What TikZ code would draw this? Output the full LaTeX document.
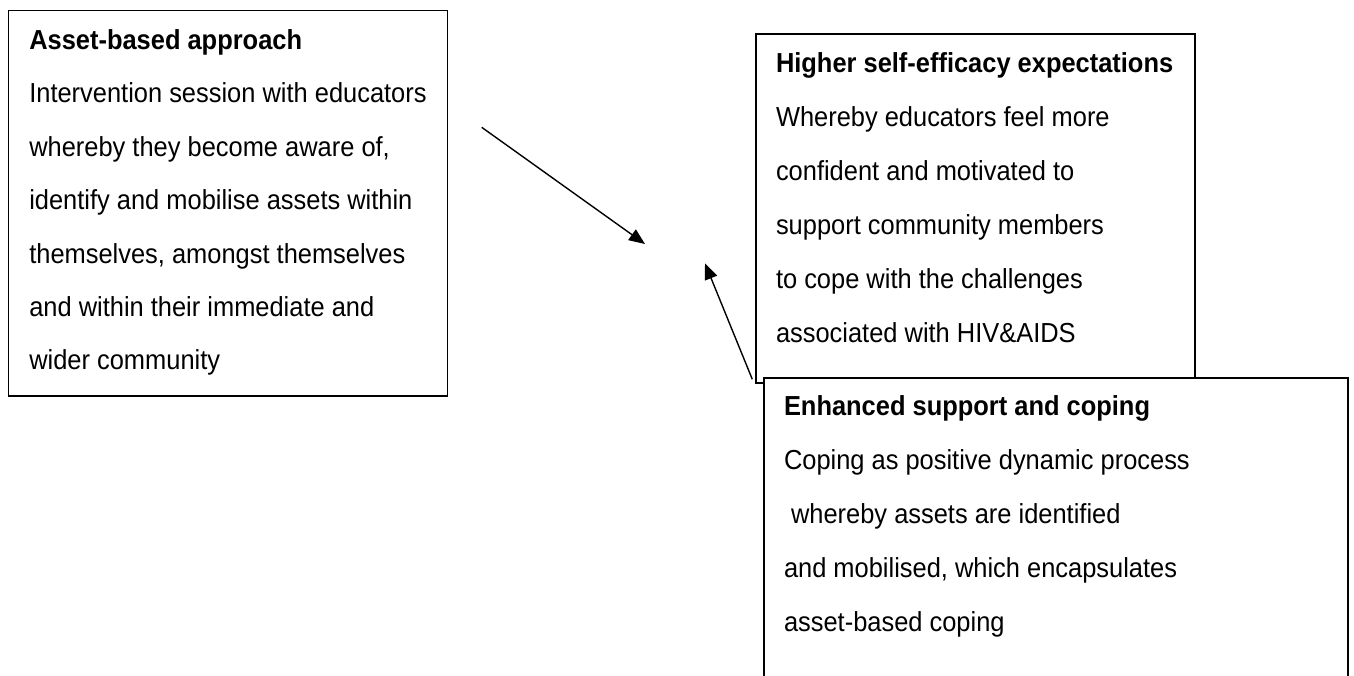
\documentclass[tikz,border=0pt]{standalone}
\usepackage{fontspec}
\setmainfont{Liberation Sans}[FakeStretch=0.925]
\usetikzlibrary{arrows.meta}
\begin{document}
\begin{tikzpicture}[x=1pt,y=-1pt,
  boxstyle/.style={draw=black, line width=1.5pt, fill=white, inner sep=0pt, outer sep=0pt, anchor=north west},
  txt/.style={anchor=base west, inner sep=0pt, outer sep=0pt, font=\fontsize{27.5}{32}\selectfont},
  hd/.style={txt, font=\fontsize{27.5}{32}\selectfont\bfseries},
  conn/.style={line width=1.4pt, -{Triangle[length=16pt,width=13pt]}}]
\useasboundingbox (0,0) rectangle (1354,675);
\clip (0,0) rectangle (1354,675);
\fill[white] (0,0) rectangle (1354,675);

% Box 1
\node[boxstyle, minimum width=439.4pt, minimum height=385.3pt] (asset) at (8.3,10.7) {};
\node[hd]  (a0) at (29.3,49)    {Asset-based approach};
\node[txt] (a1) at (29.3,102.5) {Intervention session with educators};
\node[txt] (a2) at (29.3,156)   {whereby they become aware of,};
\node[txt] (a3) at (29.3,209.5) {identify and mobilise assets within};
\node[txt] (a4) at (29.3,263)   {themselves, amongst themselves};
\node[txt] (a5) at (29.3,316.5) {and within their immediate and};
\node[txt] (a6) at (29.3,369)   {wider community};

% Box 2
\node[boxstyle, minimum width=439pt, minimum height=349pt] (efficacy) at (756,34) {};
\node[hd]  (e0) at (776,72)  {Higher self-efficacy expectations};
\node[txt] (e1) at (776,126) {Whereby educators feel more};
\node[txt] (e2) at (776,180) {confident and motivated to};
\node[txt] (e3) at (776,234) {support community members};
\node[txt] (e4) at (776,288) {to cope with the challenges};
\node[txt] (e5) at (776,342) {associated with HIV\&AIDS};

% Box 3
\node[boxstyle, minimum width=584pt, minimum height=320pt] (coping) at (764,378) {};
\node[hd]  (c0) at (784,415) {Enhanced support and coping};
\node[txt] (c1) at (784,469) {Coping as positive dynamic process};
\node[txt] (c2) at (784,523) {\ whereby assets are identified};
\node[txt] (c3) at (784,577) {and mobilised, which encapsulates};
\node[txt] (c4) at (784,631) {asset-based coping};

% Arrows
\coordinate (s1) at (481.7,127.3);
\coordinate (t1) at (645,244);
\coordinate (s2) at (752.3,379.3);
\coordinate (t2) at (705,263.3);
\draw[conn] (s1) -- (t1);
\draw[conn] (s2) -- (t2);
\end{tikzpicture}
\end{document}
